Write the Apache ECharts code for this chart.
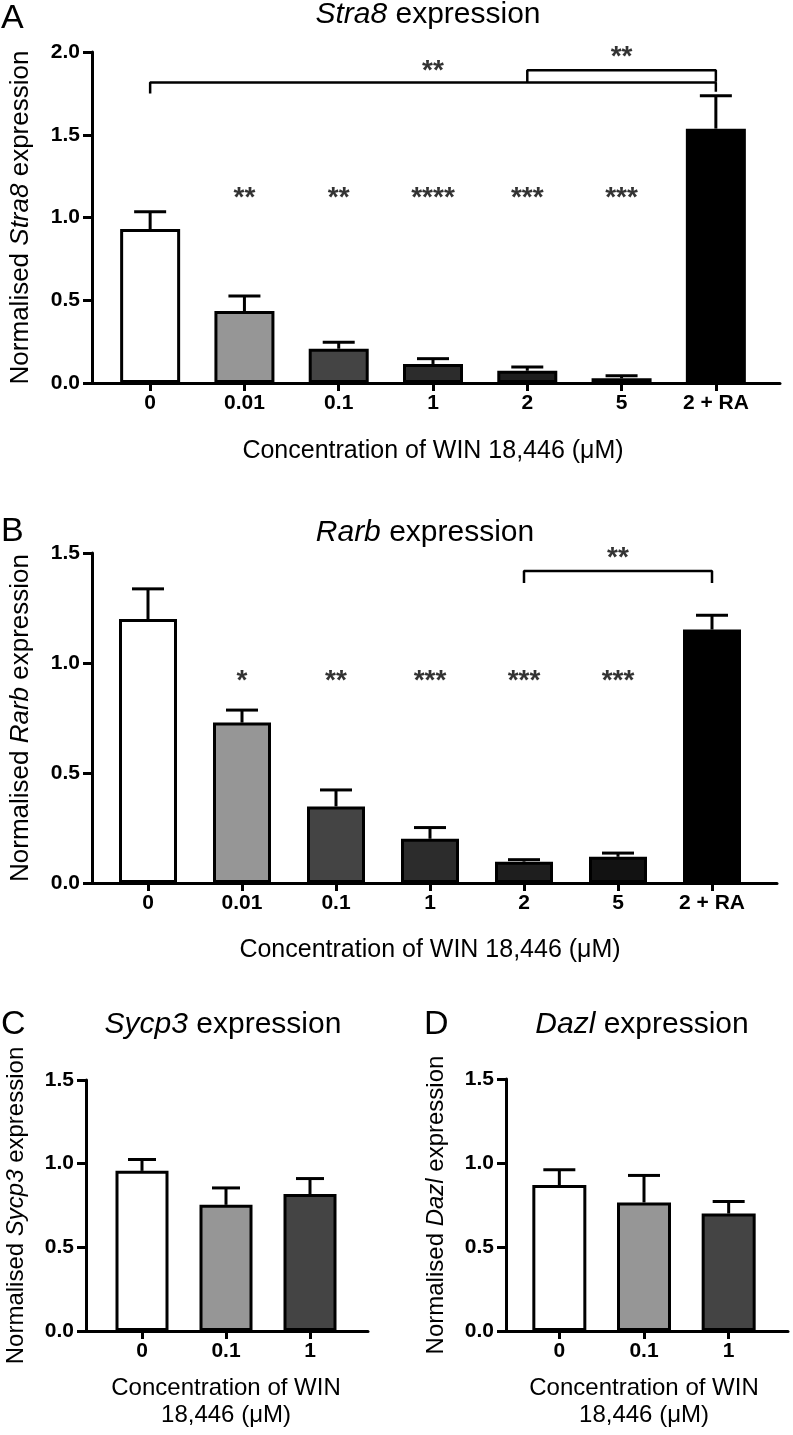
<!DOCTYPE html>
<html>
<head>
<meta charset="utf-8">
<script src="https://cdn.jsdelivr.net/npm/echarts@6/dist/echarts.min.js"></script>
<style>
  html, body { margin: 0; padding: 0; background: #fff; }
  #chart { width: 793px; height: 1435px; }
</style>
</head>
<body>
<div id="chart"></div>
<script>
// ---------------- DATA ----------------
const catsAB = ['0', '0.01', '0.1', '1', '2', '5', '2 + RA'];
const stra8Mean = [0.93, 0.435, 0.207, 0.115, 0.074, 0.028, 1.537];
const stra8ErrTop = [1.035, 0.525, 0.246, 0.147, 0.097, 0.044, 1.736];
const stra8Sig = ['', '**', '**', '****', '***', '***', ''];
const stra8SigLevel = 1.154;
const stra8Brackets = [
  { from: 0, to: 6, top: 1.815, leftEnd: 1.75, rightEnd: 1.76, text: '**', textLevel: 1.92 },
  { from: 4, to: 6, top: 1.89, leftEnd: 1.815, rightEnd: 1.82, text: '**', textLevel: 2.005 }
];

const rarbMean = [1.20, 0.729, 0.348, 0.201, 0.097, 0.119, 1.152];
const rarbErrTop = [1.337, 0.786, 0.423, 0.252, 0.106, 0.136, 1.217];
const rarbSig = ['', '*', '**', '***', '***', '***', ''];
const rarbSigLevel = 0.945;
const rarbBrackets = [
  { from: 4, to: 6, top: 1.418, leftEnd: 1.364, rightEnd: 1.364, text: '**', textLevel: 1.505 }
];

const catsCD = ['0', '0.1', '1'];
const sycp3Mean = [0.957, 0.754, 0.818];
const sycp3ErrTop = [1.025, 0.855, 0.911];
const dazlMean = [0.869, 0.765, 0.699];
const dazlErrTop = [0.96, 0.926, 0.771];

const yMaxA = 2.0, yMaxBCD = 1.5, yStep = 0.5;

// ---------------- STYLE ----------------
const FONT = '"Liberation Sans", Arial, Helvetica, sans-serif';
const colorsAB = ['#ffffff', '#969696', '#444444', '#2c2c2c', '#1e1e1e', '#121212', '#000000'];
const colorsCD = ['#ffffff', '#969696', '#444444'];
const LW = 3;
const STAR_SIZE = 28;
const TICK_SIZE = 21;

function errRenderer(capPx) {
  return function (params, api) {
    const i = api.value(0), m = api.value(1), e = api.value(2);
    const p0 = api.coord([i, m]);
    const p1 = api.coord([i, e]);
    const st = { stroke: '#000', lineWidth: LW };
    return {
      type: 'group',
      children: [
        { type: 'line', shape: { x1: p0[0], y1: p0[1], x2: p1[0], y2: p1[1] }, style: st },
        { type: 'line', shape: { x1: p1[0] - capPx / 2, y1: p1[1], x2: p1[0] + capPx / 2, y2: p1[1] }, style: st }
      ]
    };
  };
}

const option = {
  animation: false,
  backgroundColor: '#fff',
  textStyle: { fontFamily: FONT },
  title: [], grid: [], xAxis: [], yAxis: [], series: []
};

function addPanel(p) {
  const gi = option.grid.length; // frame grid index
  const bi = gi + 1;             // bar grid index
  option.grid.push({ left: p.frame[0], top: p.top, width: p.frame[1] - p.frame[0], height: p.bottom - p.top, containLabel: false });
  option.grid.push({ left: p.bars[0], top: p.top, width: p.bars[1] - p.bars[0], height: p.bottom - p.top, containLabel: false });

  // frame axes
  option.xAxis.push({
    type: 'value', gridIndex: gi, min: 0, max: 1,
    axisLine: { show: true, lineStyle: { color: '#000', width: LW } },
    axisTick: { show: false }, axisLabel: { show: false }, splitLine: { show: false }
  });
  option.yAxis.push({
    type: 'value', gridIndex: gi, min: 0, max: p.yMax, interval: yStep,
    axisLine: { show: true, lineStyle: { color: '#000', width: LW } },
    axisTick: { show: true, length: 9, lineStyle: { color: '#000', width: LW } },
    axisLabel: { show: true, margin: 12, color: '#000', fontSize: TICK_SIZE, fontWeight: 'bold', fontFamily: FONT,
      formatter: v => v.toFixed(1) },
    splitLine: { show: false },
    name: p.yName, nameLocation: 'middle', nameRotate: 90, nameGap: p.yNameGap,
    nameTextStyle: {
      color: '#000', fontSize: p.yNameSize, fontFamily: FONT,
      rich: {
        n: { fontSize: p.yNameSize, fontFamily: FONT, color: '#000' },
        i: { fontSize: p.yNameSize, fontFamily: FONT, color: '#000', fontStyle: 'italic' }
      }
    }
  });
  // bar axes
  option.xAxis.push({
    type: 'category', gridIndex: bi, data: p.cats,
    axisLine: { show: false },
    axisTick: { show: true, alignWithLabel: true, length: 8, lineStyle: { color: '#000', width: LW } },
    axisLabel: { show: true, margin: 10, color: '#000', fontSize: TICK_SIZE, fontWeight: 'bold', fontFamily: FONT, interval: 0 },
    splitLine: { show: false },
    name: p.xName, nameLocation: 'middle', nameGap: p.xNameGap,
    nameTextStyle: { color: '#000', fontSize: p.xNameSize, fontFamily: FONT, lineHeight: 27 }
  });
  option.yAxis.push({ type: 'value', gridIndex: bi, min: 0, max: p.yMax, show: false });

  // bars
  option.series.push({
    type: 'bar', xAxisIndex: bi, yAxisIndex: bi, barWidth: p.barWidth,
    data: p.mean.map((v, i) => ({ value: v, itemStyle: { color: p.colors[i] } })),
    itemStyle: { borderColor: '#000', borderWidth: LW },
    z: 2
  });
  // error bars
  option.series.push({
    type: 'custom', xAxisIndex: bi, yAxisIndex: bi,
    renderItem: errRenderer(p.capPx),
    data: p.mean.map((v, i) => [i, v, p.errTop[i]]),
    encode: { x: 0, y: [1, 2] },
    z: 3
  });
  // significance stars
  if (p.sig) {
    option.series.push({
      type: 'scatter', xAxisIndex: bi, yAxisIndex: bi, symbolSize: 0, clip: false, silent: true,
      data: p.sig.map((s, i) => ({ value: [i, p.sigLevel], name: s })).filter(d => d.name),
      label: { show: true, position: 'inside', formatter: d => d.name, color: '#000',
        fontSize: STAR_SIZE, fontWeight: 'bold', fontFamily: FONT, offset: [0, 6] },
      z: 4
    });
  }
  // brackets
  (p.brackets || []).forEach(b => {
    option.series.push({
      type: 'line', xAxisIndex: bi, yAxisIndex: bi, clip: false, symbol: 'none', silent: true,
      data: [[b.from, b.leftEnd], [b.from, b.top], [b.to, b.top], [b.to, b.rightEnd]],
      lineStyle: { color: '#000', width: 2.5 }, z: 4
    });
    option.series.push({
      type: 'scatter', xAxisIndex: bi, yAxisIndex: bi, symbolSize: 0, clip: false, silent: true,
      data: [{ value: [(b.from + b.to) / 2, b.textLevel], name: b.text }],
      label: { show: true, position: 'inside', formatter: d => d.name, color: '#000',
        fontSize: STAR_SIZE, fontWeight: 'bold', fontFamily: FONT, offset: [0, 6] },
      z: 4
    });
  });
}

addPanel({
  frame: [85, 780], bars: [103, 763], top: 52, bottom: 383, yMax: yMaxA,
  cats: catsAB, mean: stra8Mean, errTop: stra8ErrTop, colors: colorsAB,
  barWidth: 60, capPx: 32, sig: stra8Sig, sigLevel: stra8SigLevel, brackets: stra8Brackets,
  yName: '{n|Normalised }{i|Stra8}{n| expression}', yNameGap: 58, yNameSize: 26,
  xName: 'Concentration of WIN 18,446 (μM)', xNameGap: 55, xNameSize: 25
});
addPanel({
  frame: [85, 777], bars: [101, 759], top: 553, bottom: 883, yMax: yMaxBCD,
  cats: catsAB, mean: rarbMean, errTop: rarbErrTop, colors: colorsAB,
  barWidth: 58, capPx: 32, sig: rarbSig, sigLevel: rarbSigLevel, brackets: rarbBrackets,
  yName: '{n|Normalised }{i|Rarb}{n| expression}', yNameGap: 58, yNameSize: 26,
  xName: 'Concentration of WIN 18,446 (μM)', xNameGap: 54, xNameSize: 25
});
addPanel({
  frame: [86, 368], bars: [100, 352], top: 1080, bottom: 1331, yMax: yMaxBCD,
  cats: catsCD, mean: sycp3Mean, errTop: sycp3ErrTop, colors: colorsCD,
  barWidth: 53, capPx: 28,
  yName: '{n|Normalised }{i|Sycp3}{n| expression}', yNameGap: 58, yNameSize: 24,
  xName: 'Concentration of WIN\n18,446 (μM)', xNameGap: 44, xNameSize: 24
});
addPanel({
  frame: [506, 788], bars: [517, 771], top: 1079, bottom: 1331, yMax: yMaxBCD,
  cats: catsCD, mean: dazlMean, errTop: dazlErrTop, colors: colorsCD,
  barWidth: 54, capPx: 32,
  yName: '{n|Normalised }{i|Dazl}{n| expression}', yNameGap: 58, yNameSize: 24,
  xName: 'Concentration of WIN\n18,446 (μM)', xNameGap: 44, xNameSize: 24
});

// titles and panel letters
function addTitle(text, x, y, size) {
  option.title.push({
    text: text, left: x, top: y, textAlign: 'center', padding: 0,
    textStyle: {
      fontSize: size, fontWeight: 'normal', color: '#000', fontFamily: FONT,
      rich: {
        n: { fontSize: size, fontFamily: FONT, color: '#000' },
        i: { fontSize: size, fontFamily: FONT, color: '#000', fontStyle: 'italic' }
      }
    }
  });
}
function addLetter(text, x, y) {
  option.title.push({ text: text, left: x, top: y, padding: 0,
    textStyle: { fontSize: 34, fontWeight: 'normal', color: '#000', fontFamily: FONT } });
}
addTitle('{i|Stra8}{n| expression}', 428, 0, 30);
addTitle('{i|Rarb}{n| expression}', 425, 518, 30);
addTitle('{i|Sycp3}{n| expression}', 223, 1010, 30);
addTitle('{i|Dazl}{n| expression}', 642, 1010, 30);
addLetter('A', 1, 2);
addLetter('B', 1, 515);
addLetter('C', 1, 1008);
addLetter('D', 424, 1008);

const chart = echarts.init(document.getElementById('chart'), null, { renderer: 'canvas' });
chart.setOption(option);
</script>
</body>
</html>
